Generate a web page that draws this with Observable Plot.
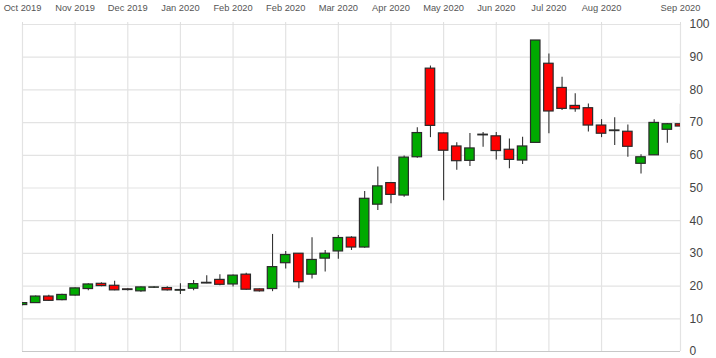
<!DOCTYPE html>
<html>
<head>
<meta charset="utf-8">
<script src="https://cdn.jsdelivr.net/npm/d3@7"></script>
<script src="https://cdn.jsdelivr.net/npm/@observablehq/plot@0.6"></script>
<style>
  html, body { margin: 0; padding: 0; background: #fff; }
  #chart { width: 716px; height: 358px; }
  svg { font-family: "Liberation Sans", Arial, sans-serif; }
</style>
</head>
<body>
<div id="chart"></div>
<script>
const weeks = [
  "2019-09-30","2019-10-07","2019-10-14","2019-10-21","2019-10-28","2019-11-04","2019-11-11","2019-11-18","2019-11-25",
  "2019-12-02","2019-12-09","2019-12-16","2019-12-23","2019-12-30","2020-01-06","2020-01-13","2020-01-20","2020-01-27",
  "2020-02-03","2020-02-10","2020-02-17","2020-02-24","2020-03-02","2020-03-09","2020-03-16","2020-03-23","2020-03-30",
  "2020-04-06","2020-04-13","2020-04-20","2020-04-27","2020-05-04","2020-05-11","2020-05-18","2020-05-25","2020-06-01",
  "2020-06-08","2020-06-15","2020-06-22","2020-06-29","2020-07-06","2020-07-13","2020-07-20","2020-07-27","2020-08-03",
  "2020-08-10","2020-08-17","2020-08-24","2020-08-31","2020-09-07","2020-09-14"
];
const opens = [
  14.2, 14.8, 16.8, 15.7, 17.1, 19.1, 20.7, 20.1, 19.0, 18.4,
  19.5, 19.4, 18.6, 19.2, 20.8, 21.9, 20.5, 23.5, 19.0, 19.1,
  27.0, 29.9, 23.5, 28.4, 30.6, 34.8, 31.8, 44.9, 51.5, 47.7,
  59.4, 86.5, 66.7, 62.7, 58.3, 66.1, 65.8, 61.7, 58.4, 63.8,
  88.0, 80.6, 75.1, 74.4, 69.1, 67.4, 67.2, 57.4, 60.0, 67.8,
  69.5
];
const highs = [
  15.0, 17.0, 17.2, 17.5, 19.4, 20.7, 21.0, 21.5, 19.2, 19.7,
  19.8, 19.8, 20.7, 21.7, 23.2, 23.5, 23.4, 23.9, 19.1, 35.8,
  30.6, 30.0, 34.8, 30.9, 35.5, 35.1, 48.9, 56.4, 51.7, 59.8,
  68.4, 87.3, 66.8, 63.8, 66.7, 67.0, 67.0, 65.0, 65.5, 95.1,
  91.0, 83.9, 78.8, 75.7, 70.9, 71.5, 69.3, 60.2, 70.9, 69.7,
  75.5
];
const lows = [
  14.0, 14.7, 15.3, 15.5, 17.0, 18.6, 19.8, 18.6, 18.5, 18.1,
  19.3, 18.5, 17.4, 18.6, 20.7, 20.1, 19.7, 18.7, 18.2, 18.3,
  25.2, 19.2, 22.2, 24.3, 28.2, 30.9, 31.6, 43.1, 45.2, 47.2,
  59.1, 65.4, 46.1, 55.4, 56.6, 62.5, 58.6, 55.9, 57.2, 63.8,
  66.6, 73.7, 73.2, 67.1, 65.4, 63.0, 59.4, 54.3, 60.0, 63.7,
  67.6
];
const closes = [
  14.8, 16.8, 15.5, 17.3, 19.3, 20.5, 20.0, 18.7, 18.8, 19.6,
  19.6, 18.7, 18.8, 20.6, 21.0, 20.4, 23.2, 18.9, 18.4, 25.8,
  29.5, 21.2, 28.0, 29.9, 34.7, 31.8, 46.7, 50.5, 47.9, 59.3,
  66.8, 69.0, 61.4, 58.2, 62.1, 66.3, 61.3, 58.6, 62.7, 95.1,
  73.4, 74.2, 74.1, 69.1, 66.6, 67.6, 62.6, 59.4, 69.9, 69.5,
  68.8
];
const tickWeeks = ["2019-09-30","2019-10-28","2019-11-25","2019-12-23","2020-01-20","2020-02-17","2020-03-16",
  "2020-04-13","2020-05-11","2020-06-08","2020-07-06","2020-08-03","2020-09-14"];
const tickLabels = ["Oct 2019","Nov 2019","Dec 2019","Jan 2020","Feb 2020","Feb 2020","Mar 2020",
  "Apr 2020","May 2020","Jun 2020","Jul 2020","Aug 2020","Sep 2020"];
const yTicks = [0,10,20,30,40,50,60,70,80,90,100];

const data = weeks.map((w, i) => ({i, week: w, open: opens[i], high: highs[i], low: lows[i], close: closes[i]}));
const tickIdx = tickWeeks.map(w => weeks.indexOf(w));
const up = data.filter(d => d.close >= d.open);
const down = data.filter(d => d.close < d.open);
const half = 0.36;

const chart = Plot.plot({
  width: 716,
  height: 358,
  marginTop: 24,
  marginBottom: 7,
  marginLeft: 22,
  marginRight: 36,
  x: {type: "linear", domain: [0, weeks.length - 1]},
  y: {domain: [0, 100]},
  marks: [
    Plot.gridY({ticks: yTicks, stroke: "#e3e3e3", strokeOpacity: 1, strokeWidth: 1.2}),
    Plot.gridX({ticks: tickIdx, stroke: "#e3e3e3", strokeOpacity: 1, strokeWidth: 1.2}),
    Plot.ruleY([0], {stroke: "#c8c8c8"}),
    Plot.axisX({anchor: "top", ticks: tickIdx, tickFormat: d => tickLabels[tickIdx.indexOf(d)],
      tickSize: 3, stroke: "#dddddd", fill: "#555", tickPadding: 11, fontSize: 9.3, label: null}),
    Plot.axisY({anchor: "right", ticks: yTicks, tickSize: 0, tickPadding: 9, fill: "#444", fontSize: 12, label: null}),
    Plot.ruleX(data, {x: "i", y1: "low", y2: "high", stroke: "#333", strokeWidth: 1.1, clip: true}),
    Plot.rect(up, {x1: d => d.i - half, x2: d => d.i + half, y1: "open", y2: "close",
      fill: "#00aa00", stroke: "#2a2a2a", strokeWidth: 1.2, clip: true}),
    Plot.rect(down, {x1: d => d.i - half, x2: d => d.i + half, y1: "open", y2: "close",
      fill: "#ff0000", stroke: "#2a2a2a", strokeWidth: 1.2, clip: true})
  ]
});
document.getElementById("chart").appendChild(chart);
</script>
</body>
</html>
